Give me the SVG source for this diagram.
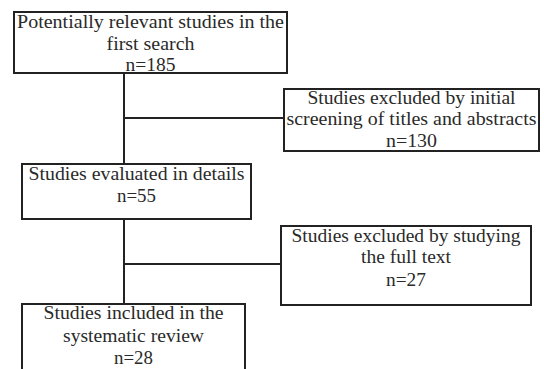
<svg xmlns="http://www.w3.org/2000/svg" width="544" height="369" viewBox="0 0 544 369">
<style>
.box{fill:#fff;stroke:#222;stroke-width:2}
.ln{stroke:#222;stroke-width:2;fill:none}
text{font-family:"Liberation Serif","Times New Roman",serif;font-size:19px;fill:#2a2a2a;text-anchor:middle}
</style>
<rect width="544" height="369" fill="#fff"/>
<g id="connectors">
<line class="ln" x1="124" y1="73" x2="124" y2="164"/>
<line class="ln" x1="124" y1="118" x2="284" y2="118"/>
<line class="ln" x1="124" y1="220" x2="124" y2="304"/>
<line class="ln" x1="124" y1="264" x2="281" y2="264"/>
</g>
<g id="n1">
<rect class="box" x="14" y="12" width="273" height="61"/>
<text x="150.5" y="28" textLength="267" lengthAdjust="spacingAndGlyphs">Potentially relevant studies in the</text>
<text x="150.5" y="50" textLength="88" lengthAdjust="spacingAndGlyphs">first search</text>
<text x="150.5" y="71" textLength="50" lengthAdjust="spacingAndGlyphs">n=185</text>
</g>
<g id="n2">
<rect class="box" x="284" y="89" width="255" height="62"/>
<text x="411.5" y="104" textLength="208" lengthAdjust="spacingAndGlyphs">Studies excluded by initial</text>
<text x="411.5" y="125" textLength="250" lengthAdjust="spacingAndGlyphs">screening of titles and abstracts</text>
<text x="411.5" y="147" textLength="51" lengthAdjust="spacingAndGlyphs">n=130</text>
</g>
<g id="n3">
<rect class="box" x="22" y="164" width="229" height="55"/>
<text x="136.5" y="180" textLength="216" lengthAdjust="spacingAndGlyphs">Studies evaluated in details</text>
<text x="136.5" y="202" textLength="39" lengthAdjust="spacingAndGlyphs">n=55</text>
</g>
<g id="n4">
<rect class="box" x="281" y="226" width="250" height="79"/>
<text x="406" y="242" textLength="229" lengthAdjust="spacingAndGlyphs">Studies excluded by studying</text>
<text x="406" y="263" textLength="90" lengthAdjust="spacingAndGlyphs">the full text</text>
<text x="406" y="286" textLength="40" lengthAdjust="spacingAndGlyphs">n=27</text>
</g>
<g id="n5">
<rect class="box" x="22" y="304" width="223" height="80"/>
<text x="133.5" y="319" textLength="180" lengthAdjust="spacingAndGlyphs">Studies included in the</text>
<text x="133.5" y="342" textLength="141" lengthAdjust="spacingAndGlyphs">systematic review</text>
<text x="133.5" y="364" textLength="39" lengthAdjust="spacingAndGlyphs">n=28</text>
</g>
</svg>
